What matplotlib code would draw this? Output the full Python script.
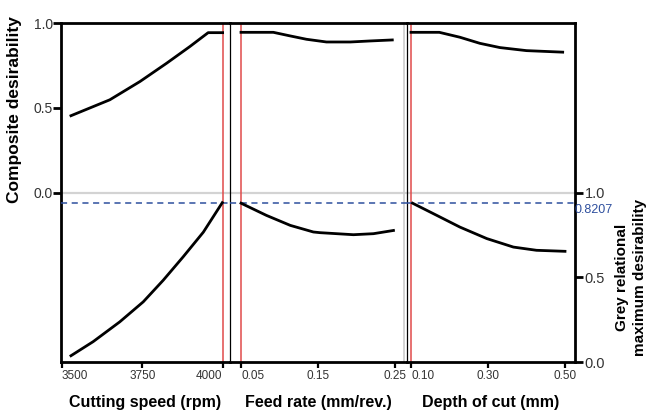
import matplotlib
matplotlib.use('Agg')
from matplotlib import pyplot as plt

plt.rcParams['font.family'] = ['Liberation Sans', 'DejaVu Sans']

# cutting speed panel
speed_top_x = [3528, 3649, 3743, 3826, 3898, 3955, 4000]
speed_top_y = [0.453, 0.547, 0.655, 0.763, 0.861, 0.943, 0.943]
speed_bot_x = [3528, 3597, 3680, 3753, 3815, 3877, 3940, 3999]
speed_bot_y = [0.037, 0.120, 0.237, 0.355, 0.482, 0.620, 0.766, 0.940]
speed_ticks = [3500, 3750, 4000]
speed_cur = 4000

# feed rate panel
feed_top_x = [0.05, 0.092, 0.1136, 0.135, 0.161, 0.192, 0.2175, 0.2465]
feed_top_y = [0.945, 0.945, 0.924, 0.904, 0.888, 0.888, 0.894, 0.900]
feed_bot_x = [0.05, 0.083, 0.114, 0.144, 0.1526, 0.196, 0.222, 0.248]
feed_bot_y = [0.937, 0.865, 0.806, 0.767, 0.763, 0.751, 0.757, 0.776]
feed_ticks = [0.05, 0.15, 0.25]
feed_labels = ['0.05', '0.15', '0.25']
feed_cur = 0.05

# depth of cut panel
depth_top_x = [0.10, 0.1735, 0.227, 0.279, 0.331, 0.40, 0.494]
depth_top_y = [0.945, 0.945, 0.916, 0.880, 0.855, 0.837, 0.828]
depth_bot_x = [0.104, 0.167, 0.227, 0.297, 0.366, 0.426, 0.50]
depth_bot_y = [0.937, 0.865, 0.796, 0.728, 0.678, 0.659, 0.653]
depth_ticks = [0.10, 0.30, 0.50]
depth_labels = ['0.10', '0.30', '0.50']
depth_cur = 0.10

grey_opt_y = 0.94
grey_opt_label = '0.8207'

RED = '#e04a4a'
BLUE = '#2e4f9e'
TXT = '#333333'

W, H = 652, 412
fig = plt.figure(figsize=(6.52, 4.12), dpi=100)

def box(x0, x1):
    return [x0 / W, 1 - 362 / H, (x1 - x0) / W, (362 - 23) / H]

ax1 = fig.add_axes(box(61, 230))
ax2 = fig.add_axes(box(230, 407))
ax3 = fig.add_axes(box(407, 575))
axes = [ax1, ax2, ax3]
twins = [a.twinx() for a in axes]

xlims = [(3497, 4023), (0.0357, 0.2656), (0.0896, 0.526)]
panels = [
    (speed_top_x, speed_top_y, speed_bot_x, speed_bot_y, speed_cur),
    (feed_top_x, feed_top_y, feed_bot_x, feed_bot_y, feed_cur),
    (depth_top_x, depth_top_y, depth_bot_x, depth_bot_y, depth_cur),
]

for ax, tw, lim, (tx, ty, bx, by, cur) in zip(axes, twins, xlims, panels):
    ax.set_xlim(*lim)
    ax.set_ylim(-1, 1)
    tw.set_ylim(0, 2)
    ax.axhline(0, color='#d3d3d3', lw=1.6, zorder=1)
    tw.axhline(grey_opt_y, color=BLUE, lw=1.1, ls=(0, (4, 3)), zorder=2)
    ax.axvline(cur, color=RED, lw=1.1, zorder=2)
    ax.plot(tx, ty, color='black', lw=2.0, zorder=4, solid_joinstyle='round')
    tw.plot(bx, by, color='black', lw=2.0, zorder=4, solid_joinstyle='round')
    for s in tw.spines.values():
        s.set_visible(False)
    tw.set_yticks([])
    ax.spines['top'].set_linewidth(2.0)
    ax.spines['bottom'].set_linewidth(2.0)
    ax.spines['right'].set_visible(False)
    ax.tick_params(axis='x', direction='out', length=4, width=1.6,
                   labelsize=8.5, labelcolor=TXT, pad=2)

# left axis
ax1.spines['left'].set_linewidth(2.0)
ax1.set_yticks([0, 0.5, 1.0])
ax1.set_yticklabels(['0.0', '0.5', '1.0'])
ax1.tick_params(axis='y', direction='out', length=6, width=2.0,
                labelsize=10, labelcolor=TXT, pad=0)

# separators
for ax in (ax2, ax3):
    ax.spines['left'].set_linewidth(0.9)
    ax.set_yticks([])
ax2.spines['right'].set_visible(True)
ax2.spines['right'].set_color('#cccccc')
ax2.spines['right'].set_linewidth(1.2)
ax2.spines['right'].set_position(('outward', -2.2))

# right axis
tw3 = twins[2]
tw3.spines['right'].set_visible(True)
tw3.spines['right'].set_linewidth(2.0)
tw3.set_yticks([0, 0.5, 1.0])
tw3.set_yticklabels(['0.0', '0.5', '1.0'])
tw3.tick_params(axis='y', direction='out', length=6, width=2.0,
                labelsize=10.5, labelcolor=TXT, pad=1)
for lab in tw3.get_yticklabels():
    lab.set_va('center_baseline')
tw3.text(1.0, grey_opt_y - 0.01, grey_opt_label, transform=tw3.get_yaxis_transform(),
         color=BLUE, fontsize=9, ha='left', va='top')

ax1.set_xticks(speed_ticks)
ax1.set_xticklabels([str(v) for v in speed_ticks])
ax2.set_xticks(feed_ticks)
ax2.set_xticklabels(feed_labels)
ax3.set_xticks(depth_ticks)
ax3.set_xticklabels(depth_labels)
for ax in axes:
    labs = ax.get_xticklabels()
    labs[0].set_ha('left')
labs = ax1.get_xticklabels()
labs[-1].set_ha('right')

ax1.set_xlabel('Cutting speed (rpm)', fontsize=11.5, fontweight='bold', labelpad=9)
ax2.set_xlabel('Feed rate (mm/rev.)', fontsize=11.5, fontweight='bold', labelpad=9)
ax3.set_xlabel('Depth of cut (mm)', fontsize=11.5, fontweight='bold', labelpad=9)

fig.text(15 / W, 1 - 110 / H, 'Composite desirability', rotation=90,
         fontsize=12.5, fontweight='bold', ha='center', va='center')
fig.text(631 / W, 1 - 277 / H, 'Grey relational\nmaximum desirability', rotation=90,
         fontsize=11, fontweight='bold', ha='center', va='center', linespacing=1.45)

plt.savefig('out.png', dpi=100)
